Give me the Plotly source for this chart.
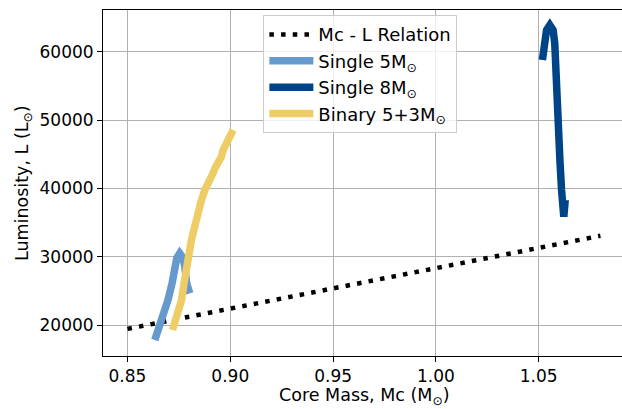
import plotly.graph_objects as go

# Mc - L relation (Paczynski)
rel_mc = [0.85, 1.08]
rel_L = [19434, 33062]

# Single 5 Msun track
s5_mc = [0.8633, 0.8673, 0.8697, 0.8717, 0.8730, 0.8740, 0.8754, 0.8770, 0.8779, 0.8788, 0.8803]
s5_L = [17804, 21215, 23660, 26105, 28535, 29810, 30497, 29810, 28535, 26105, 24640]

# Single 8 Msun track
s8_mc = [1.0518, 1.0530, 1.0538, 1.0554, 1.0570, 1.0578, 1.0583, 1.0594, 1.0603, 1.0611, 1.0619, 1.0622, 1.0629]
s8_L = [58796, 61241, 63188, 63920, 63188, 61241, 56351, 49999, 44156, 39764, 36836, 35855, 38300]

# Binary 5+3 Msun track
b_mc = [0.8719, 0.8738, 0.8763, 0.8775, 0.8787, 0.8800, 0.8811, 0.8827, 0.8843, 0.8860,
        0.8876, 0.8892, 0.8909, 0.8916, 0.8925, 0.8941, 0.8957, 0.8965, 0.8982, 0.9014]
b_L = [19268, 21215, 23660, 26105, 28535, 31463, 32444, 34391, 36836, 38300,
       39764, 40745, 41228, 42209, 42941, 43673, 44640, 45620, 46601, 48548]

x_ticks = [0.85, 0.90, 0.95, 1.00, 1.05]
y_ticks = [20000, 30000, 40000, 50000, 60000]

FONT = "DejaVu Sans"
SUN = "\u2299"

fig = go.Figure()
fig.add_trace(go.Scatter(x=rel_mc, y=rel_L, mode="lines", name="Mc - L Relation",
                         line=dict(color="black", width=4.5, dash="4.5px,7.2px")))
fig.add_trace(go.Scatter(x=s5_mc, y=s5_L, mode="lines", name="Single 5M<sub>" + SUN + "</sub>",
                         line=dict(color="#6699CC", width=7.5)))
fig.add_trace(go.Scatter(x=s8_mc, y=s8_L, mode="lines", name="Single 8M<sub>" + SUN + "</sub>",
                         line=dict(color="#004488", width=7.5)))
fig.add_trace(go.Scatter(x=b_mc, y=b_L, mode="lines", name="Binary 5+3M<sub>" + SUN + "</sub>",
                         line=dict(color="#EECC66", width=7.5)))

axis_common = dict(
    showgrid=True, gridcolor="#b0b0b0", gridwidth=1,
    showline=True, linecolor="black", linewidth=1,
    ticks="outside", ticklen=5, tickwidth=1, tickcolor="black",
    zeroline=False,
    tickfont=dict(family=FONT, size=17, color="black"),
)

fig.update_layout(
    width=622, height=409,
    margin=dict(l=103, r=0, t=10, b=53),
    plot_bgcolor="white", paper_bgcolor="white",
    font=dict(family=FONT, size=17, color="black"),
    xaxis=dict(range=[0.8381, 1.0905], tickvals=x_ticks, tickformat=".2f", mirror=True,
               **axis_common),
    yaxis=dict(range=[15461, 66119], tickvals=y_ticks, tickformat="d",
               **axis_common),
    legend=dict(x=0.309, y=0.985, xanchor="left", yanchor="top",
                bgcolor="rgba(255,255,255,0.8)", bordercolor="#cccccc", borderwidth=1,
                font=dict(family=FONT, size=18, color="black"), itemwidth=44),
    showlegend=True,
    annotations=[
        dict(text="Core Mass, Mc (M<sub>" + SUN + "</sub>)", xref="paper", yref="paper",
             x=(364 - 103) / 519, y=-(396 - 356) / 346, xanchor="center", yanchor="middle",
             showarrow=False, font=dict(family=FONT, size=17.5, color="black")),
        dict(text="Luminosity, L (L<sub>" + SUN + "</sub>)", xref="paper", yref="paper",
             x=-(103 - 23) / 519, y=0.5, xanchor="center", yanchor="middle", textangle=-90,
             showarrow=False, font=dict(family=FONT, size=17.5, color="black")),
    ],
)

fig.write_html("out.html")
